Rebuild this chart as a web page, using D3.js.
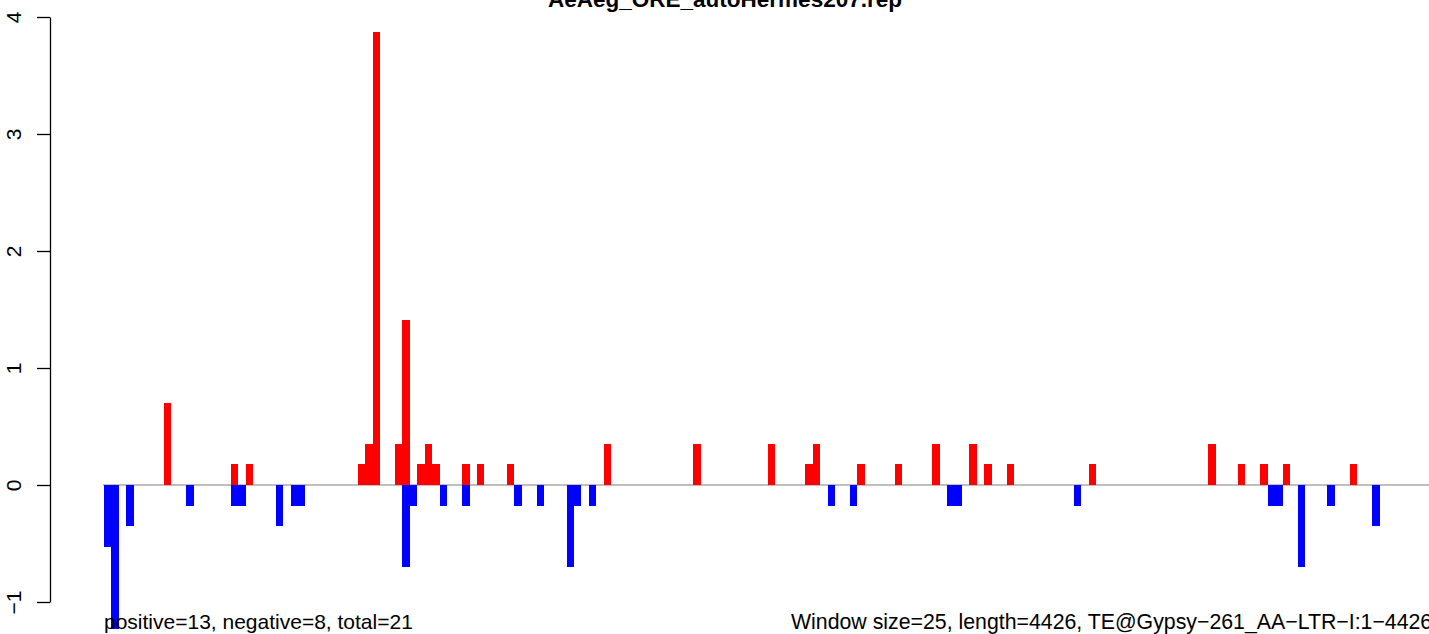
<!DOCTYPE html>
<html>
<head>
<meta charset="utf-8">
<script src="https://cdn.jsdelivr.net/npm/d3@7"></script>
<style>
  html, body { margin: 0; padding: 0; background: #fff; }
  svg { display: block; }
  text { font-family: "Liberation Sans", Arial, Helvetica, sans-serif; }
</style>
</head>
<body>
<svg id="chart" width="1429" height="634"></svg>
<script>
// ---- data (window index, value) ----
const titleText = "AeAeg_ORE_autoHermes207.rep";
const leftNote = "positive=13, negative=8, total=21";
const rightNote = "Window size=25, length=4426, TE@Gypsy\u2212261_AA\u2212LTR\u2212I:1\u22124426";
const nWindows = 177;
const yTicks = [-1, 0, 1, 2, 3, 4];

const posBins   = [8, 17, 19, 34, 35, 36, 39, 40, 42, 43, 44, 48, 50, 54, 67, 79, 89, 94, 95, 101, 106, 111, 116, 118, 121, 132, 148, 152, 155, 158, 167];
const posValues = [0.704, 0.176, 0.176, 0.176, 0.352, 3.872, 0.352, 1.408, 0.176, 0.352, 0.176, 0.176, 0.176, 0.176, 0.352, 0.352, 0.352, 0.176, 0.352, 0.176, 0.176, 0.352, 0.352, 0.176, 0.176, 0.176, 0.352, 0.176, 0.176, 0.176, 0.176];

const negBins   = [0, 1, 3, 11, 17, 18, 23, 25, 26, 40, 41, 45, 48, 55, 58, 62, 63, 65, 97, 100, 113, 114, 130, 156, 157, 160, 164, 170];
const negValues = [-0.528, -1.232, -0.352, -0.176, -0.176, -0.176, -0.352, -0.176, -0.176, -0.704, -0.176, -0.176, -0.176, -0.176, -0.176, -0.704, -0.176, -0.176, -0.176, -0.176, -0.176, -0.176, -0.176, -0.176, -0.176, -0.704, -0.176, -0.352];

// ---- layout ----
const svg = d3.select("#chart");
const x = d3.scaleLinear().domain([0, nWindows]).range([104, 104 + nWindows * 7.46]);
const y = d3.scaleLinear().domain([-1, 4]).range([602, 17]);

// zero line
svg.append("line")
  .attr("x1", 103).attr("x2", 1429)
  .attr("y1", y(0)).attr("y2", y(0))
  .attr("stroke", "#808080").attr("stroke-width", 1.2);

const pos = posBins.map((b, i) => ({ b, v: posValues[i] }));
const neg = negBins.map((b, i) => ({ b, v: negValues[i] }));

svg.append("g").selectAll("rect").data(pos).join("rect")
  .attr("x", d => x(d.b)).attr("width", d => x(d.b + 1) - x(d.b))
  .attr("y", d => y(d.v)).attr("height", d => y(0) - y(d.v))
  .attr("fill", "#FF0000").attr("shape-rendering", "crispEdges");

svg.append("g").selectAll("rect").data(neg).join("rect")
  .attr("x", d => x(d.b)).attr("width", d => x(d.b + 1) - x(d.b))
  .attr("y", y(0)).attr("height", d => y(d.v) - y(0))
  .attr("fill", "#0000FF").attr("shape-rendering", "crispEdges");

// y axis
const yAxis = d3.axisLeft(y).tickValues(yTicks).tickFormat(d3.format("d"))
  .tickSizeOuter(0).tickSizeInner(13).tickPadding(0);
const ga = svg.append("g").attr("transform", "translate(50,0)").call(yAxis);
ga.select(".domain").attr("stroke", "#000").attr("stroke-width", 1.3);
ga.selectAll(".tick line").attr("stroke", "#000").attr("stroke-width", 1.3);
ga.selectAll(".tick text")
  .attr("x", 0).attr("dy", null)
  .attr("transform", "translate(-29,0) rotate(-90)")
  .attr("text-anchor", "middle")
  .attr("dominant-baseline", "auto")
  .attr("y", 0)
  .style("font-size", "21px").attr("fill", "#000");

// title
svg.append("text").attr("x", 725).attr("y", 7)
  .attr("text-anchor", "middle")
  .style("font-size", "22.5px").style("font-weight", "bold")
  .text(titleText);

// bottom notes
svg.append("text").attr("x", 104).attr("y", 629)
  .style("font-size", "21px").attr("fill", "#000")
  .text(leftNote);
svg.append("text").attr("x", 791).attr("y", 629)
  .style("font-size", "21.3px").attr("fill", "#000")
  .text(rightNote);
</script>
</body>
</html>
